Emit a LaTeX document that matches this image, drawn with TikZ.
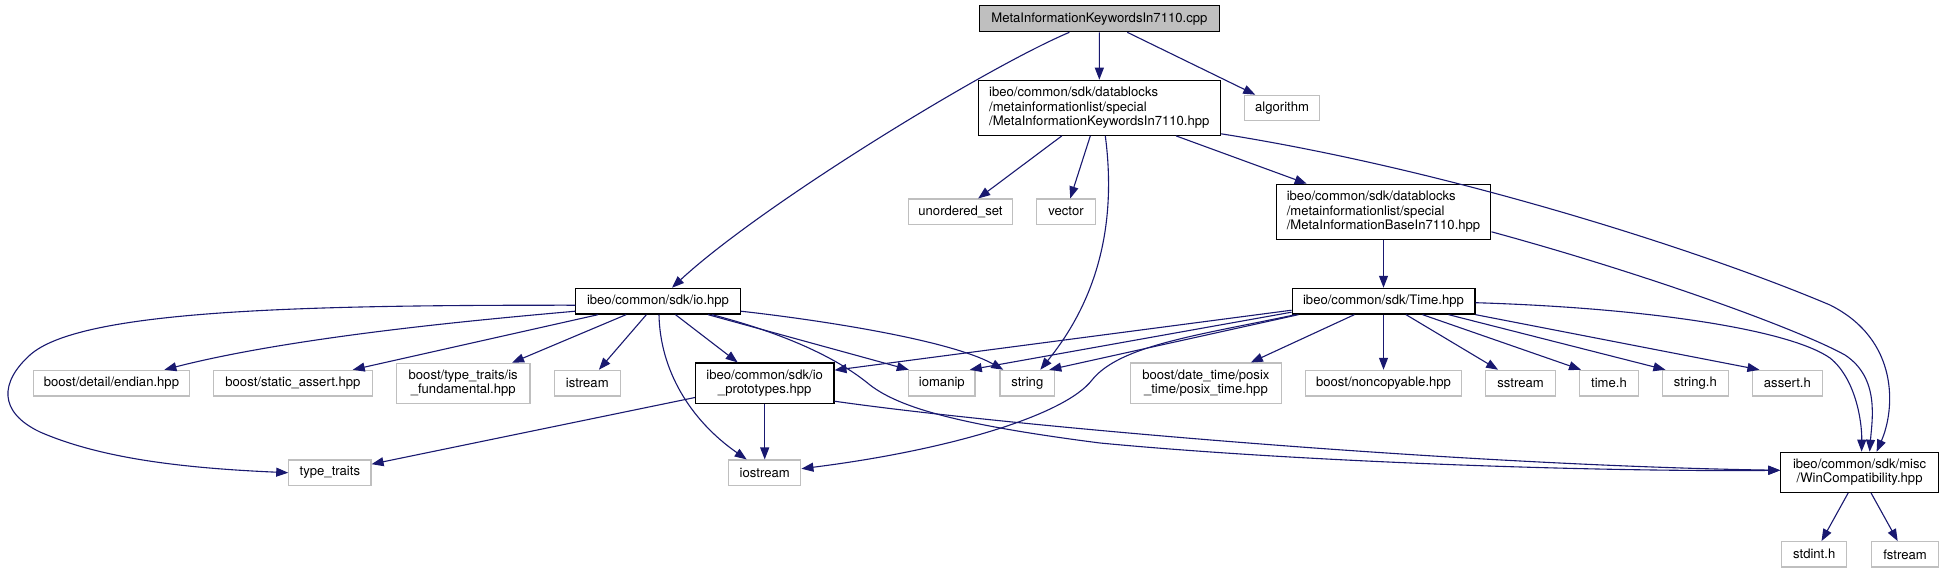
\documentclass[tikz,border=0pt]{standalone}
\usepackage{fontspec}
\setmainfont{TeX Gyre Heros}
\usetikzlibrary{arrows.meta}
\definecolor{edgeblue}{HTML}{191970}
\definecolor{extgray}{HTML}{BFBFBF}
\definecolor{rootfill}{HTML}{BFBFBF}
\begin{document}
\begin{tikzpicture}[x=1pt,y=-1pt,
  base/.style={inner sep=0pt, line width=1.2pt, fill=white, text=black,
    font=\fontsize{13.1}{14.5}\selectfont},
  intbox/.style={base, draw=black},
  extbox/.style={base, draw=extgray},
  rootbox/.style={base, draw=black, fill=rootfill},
  dep/.style={draw=edgeblue, line width=1.1pt, -{Triangle[length=12pt,width=9pt]}}
]
\useasboundingbox (0,0) rectangle (1944,573);
\fill[white] (0,0) rectangle (1944,573);

% nodes
\node[rootbox, minimum width=239.7pt, minimum height=26pt] (root) at (1099.4,18.7) {MetaInformationKeywordsIn7110.cpp};
\node[intbox, minimum width=242.4pt, minimum height=55pt, align=left] (kw) at (1099.3,107.8) {ibeo/common/sdk/datablocks\\/metainformationlist/special\\/MetaInformationKeywordsIn7110.hpp};
\node[extbox, minimum width=75pt, minimum height=25pt] (alg) at (1282.1,107.8) {algorithm};
\node[extbox, minimum width=104pt, minimum height=25.3pt] (uset) at (960.5,211.7) {unordered\_set};
\node[extbox, minimum width=59pt, minimum height=25.3pt] (vec) at (1066,211.7) {vector};
\node[intbox, minimum width=214.7pt, minimum height=55pt, align=left] (basen) at (1383.5,211.8) {ibeo/common/sdk/datablocks\\/metainformationlist/special\\/MetaInformationBaseIn7110.hpp};
\node[intbox, minimum width=182.8pt, minimum height=25.7pt] (time) at (1383.5,301.2) {ibeo/common/sdk/Time.hpp};
\node[intbox, minimum width=164.3pt, minimum height=25.7pt] (io) at (658,301.2) {ibeo/common/sdk/io.hpp};
\node[extbox, minimum width=155.8pt, minimum height=25.7pt] (endian) at (111.4,383.2) {boost/detail/endian.hpp};
\node[extbox, minimum width=158.9pt, minimum height=25.7pt] (sassert) at (292.9,383.2) {boost/static\_assert.hpp};
\node[extbox, minimum width=133.5pt, minimum height=40pt, align=center] (isfund) at (463.2,383.3) {boost/type\_traits/is\\\_fundamental.hpp};
\node[extbox, minimum width=65.6pt, minimum height=25.7pt] (istream) at (587.3,383.2) {istream};
\node[intbox, minimum width=138.4pt, minimum height=40.3pt, align=center] (proto) at (764.7,383.2) {ibeo/common/sdk/io\\\_prototypes.hpp};
\node[extbox, minimum width=66.5pt, minimum height=25.7pt] (iomanip) at (941.8,383.2) {iomanip};
\node[extbox, minimum width=54.5pt, minimum height=25.7pt] (string) at (1027.3,383.2) {string};
\node[extbox, minimum width=150.9pt, minimum height=40.3pt, align=center] (posix) at (1205.9,383.2) {boost/date\_time/posix\\\_time/posix\_time.hpp};
\node[extbox, minimum width=156.3pt, minimum height=25.7pt] (noncopy) at (1383.5,383.2) {boost/noncopyable.hpp};
\node[extbox, minimum width=69.5pt, minimum height=25.7pt] (sstream) at (1520.6,383.2) {sstream};
\node[extbox, minimum width=59.3pt, minimum height=25.7pt] (timeh) at (1609,383.2) {time.h};
\node[extbox, minimum width=65.5pt, minimum height=25.7pt] (stringh) at (1695.4,383.2) {string.h};
\node[extbox, minimum width=70pt, minimum height=25.7pt] (asserth) at (1787.4,383.2) {assert.h};
\node[extbox, minimum width=82.2pt, minimum height=25.3pt] (ttraits) at (329.9,472.7) {type\_traits};
\node[extbox, minimum width=72.3pt, minimum height=25.3pt] (iostream) at (764.7,472.7) {iostream};
\node[intbox, minimum width=157.6pt, minimum height=40pt, align=center] (win) at (1859.6,472.3) {ibeo/common/sdk/misc\\/WinCompatibility.hpp};
\node[extbox, minimum width=65pt, minimum height=25.3pt] (stdint) at (1814.2,554.3) {stdint.h};
\node[extbox, minimum width=67pt, minimum height=25.3pt] (fstream) at (1905,554.3) {fstream};

% edges from root
\draw[dep] ([xshift=-30pt]root.south) .. controls (985,68) and (760,206) .. ([xshift=14pt]io.north);
\draw[dep] (root) -- (kw);
\draw[dep] (root) -- (alg);

% edges from kw
\draw[dep] (kw) -- (uset);
\draw[dep] (kw) -- (vec);
\draw[dep] ([xshift=6pt]kw.south) .. controls (1115,210) and (1105,290) .. ([xshift=13pt]string.north);
\draw[dep] (kw) -- (basen);
\draw[dep] ([yshift=-26pt]kw.east) .. controls (1450,170) and (1700,250) .. (1830,305) .. controls (1900,340) and (1895,410) .. ([xshift=17pt]win.north);

% edges from base
\draw[dep] (basen) -- (time);
\draw[dep] ([yshift=-20pt]basen.east) .. controls (1650,275) and (1800,330) .. (1845,355) .. controls (1880,378) and (1872,420) .. ([xshift=10pt]win.north);

% edges from io
\draw[dep] ([yshift=-4pt]io.west) .. controls (300,305) and (80,310) .. (30,355) .. controls (0,382) and (-2,412) .. (40,432) .. controls (100,458) and (180,468) .. (ttraits.west);
\draw[dep] ([yshift=-10pt]io.west) .. controls (500,318) and (300,335) .. ([xshift=53pt]endian.north);
\draw[dep] (io) -- (sassert);
\draw[dep] (io) -- (isfund);
\draw[dep] (io) -- (istream);
\draw[dep] ([xshift=1pt]io.south) .. controls (660,370) and (690,420) .. ([xshift=-18pt]iostream.north);
\draw[dep] (io) -- (proto);
\draw[dep] ([xshift=50pt]io.south) -- ([xshift=-33pt]iomanip.north);
\draw[dep] ([yshift=-10pt]io.east) .. controls (820,320) and (950,340) .. ([xshift=-24pt]string.north);
\draw[dep] ([xshift=54pt]io.south) .. controls (790,335) and (840,360) .. (870,385) .. controls (900,408) and (960,425) .. (1100,443) .. controls (1300,462) and (1600,472) .. ([yshift=2pt]win.west);

% edges from io_prototypes
\draw[dep] (proto) -- (ttraits);
\draw[dep] (proto) -- (iostream);
\draw[dep] ([yshift=-18pt]proto.east) .. controls (1000,425) and (1450,465) .. ([yshift=2pt]win.west);

% edges from Time
\draw[dep] ([yshift=-9pt]time.west) -- ([yshift=13pt]proto.east);
\draw[dep] ([yshift=-11pt]time.west) -- ([xshift=28pt]iomanip.north);
\draw[dep] ([xshift=-85pt]time.south) -- ([xshift=22pt]string.north);
\draw[dep] ([xshift=-88pt]time.south) .. controls (1200,335) and (1120,345) .. (1092,380) .. controls (1065,415) and (950,450) .. ([yshift=4pt]iostream.east);
\draw[dep] (time) -- (posix);
\draw[dep] (time) -- (noncopy);
\draw[dep] (time) -- (sstream);
\draw[dep] ([xshift=39pt]time.south) -- ([xshift=-28pt]timeh.north);
\draw[dep] ([xshift=65pt]time.south) -- ([xshift=-30pt]stringh.north);
\draw[dep] (time.south east) -- ([xshift=-28pt]asserth.north);
\draw[dep] ([yshift=-1.5pt]time.east) .. controls (1650,308) and (1790,330) .. (1830,358) .. controls (1855,378) and (1862,420) .. ([xshift=2pt]win.north);

% edges from WinCompatibility
\draw[dep] (win) -- (stdint);
\draw[dep] (win) -- (fstream);
\end{tikzpicture}
\end{document}
